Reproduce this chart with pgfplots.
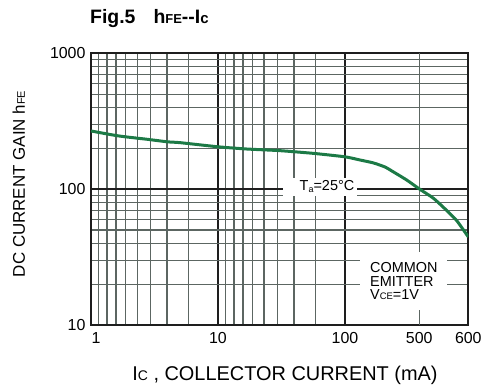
\documentclass[border=0pt]{standalone}
\usepackage{pgfplots}
\pgfplotsset{compat=1.18}
\usepackage{fontspec}
\setmainfont{Liberation Sans}
\definecolor{curvegreen}{RGB}{28,122,70}
\definecolor{gridgray}{RGB}{92,102,98}
\definecolor{darkline}{RGB}{30,30,30}
\newcommand{\fs}[1]{\fontsize{#1}{#1}\selectfont}

\pgfplotstableread{
ic hfe
1 268
1.5 250
1.85 243
2.75 233
4 223
5 220
10 205
16.8 197.5
30.8 192
56 183.5
100 173
138 164
185 156
238 145.5
285 134
381 116.7
501 99.8
527 85.7
554 69.5
575 58.5
600 44.5
}\hfedata

\begin{document}
\begin{tikzpicture}
\begin{axis}[
  at={(0bp,0bp)}, anchor=south west,
  scale only axis, width=377.3bp, height=271.7bp,
  ymode=log, ymin=10, ymax=1000,
  xmin=1, xmax=600,
  x coord trafo/.code={\pgfmathparse{ifthenelse(#1<=100, log10(#1), ifthenelse(#1<=500, 2+0.837*(log10(#1)-2), 2.585+4.876*(log10(#1)-2.69897)))}},
  xtick={1,10,100,600}, xticklabels={\hspace{10bp}1,10,100,600},
  extra x ticks={500}, extra x tick labels={500},
  extra x tick style={major grid style={gridgray, line width=1.2bp}},
  minor xtick={1.148,1.337,1.574,1.879,2.307,2.938,3.972,5.834,11.48,13.37,15.74,18.79,23.07,29.38,39.72,58.34},
  ytick={10,100,1000}, yticklabels={10,100,1000},
  minor ytick={20,30,40,50,60,70,80,90,200,300,400,500,600,700,800,900},
  grid=both,
  major grid style={darkline, line width=1.5bp},
  minor grid style={gridgray, line width=1.2bp},
  major tick length=0pt, minor tick length=0pt,
  axis line style={darkline, line width=2.3bp},
  ticklabel style={font=\fs{16}},
  /pgf/number format/assume math mode=true,
  xticklabel style={yshift=-4bp},
  yticklabel style={xshift=-2bp},
]
\addplot[curvegreen, line width=3bp, smooth, tension=0.35] table[x=ic, y=hfe] {\hfedata};
\end{axis}
% white boxes with annotations
\fill[white] (192bp,129bp) rectangle (266bp,147bp);
\node[anchor=base, inner sep=0pt] at (236bp,134bp) {\fs{14.5}T\raisebox{-1.5bp}{\fs{9}a}=25°C};
\fill[white] (269bp,15bp) rectangle (356bp,73bp);
\node[anchor=base west, inner sep=0pt] at (279bp,52bp) {\fs{14.5}COMMON};
\node[anchor=base west, inner sep=0pt] at (279bp,39bp) {\fs{14.5}EMITTER};
\node[anchor=base west, inner sep=0pt] at (279bp,26bp) {\fs{14.5}V{\fs{9.5}CE}=1V};
% title and axis labels
\node[anchor=base west, inner sep=0pt] at (-1bp,301bp) {\fs{19.5}\bfseries Fig.5\hspace{18bp}h{\fs{13}FE}-{}-I{\fs{15}c}};
\node[anchor=base, inner sep=0pt] at (194bp,-55bp) {\fs{20}I{\fs{14}C} , COLLECTOR CURRENT (mA)};
\node[anchor=base, inner sep=0pt, rotate=90] at (-66bp,141bp) {\fs{17}DC CURRENT GAIN h{\fs{11}FE}};
\pgfresetboundingbox
\path[use as bounding box] (-91bp,-62bp) rectangle (395bp,325bp);
\end{tikzpicture}
\end{document}
